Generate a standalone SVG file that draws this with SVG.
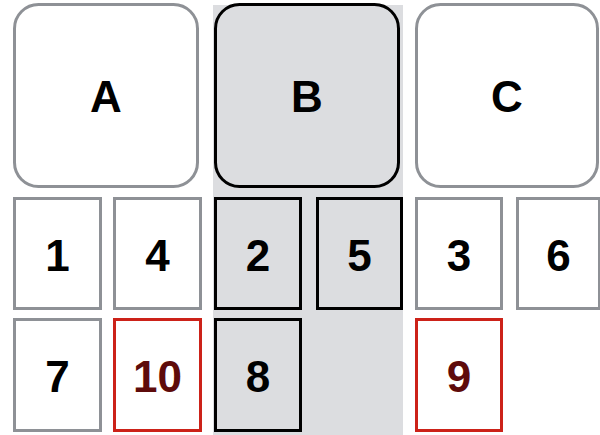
<svg xmlns="http://www.w3.org/2000/svg" width="600" height="435" viewBox="0 0 600 435">
<style>
  .bg{fill:#dcdde0;}
  .n rect{stroke-width:3;}
  .g rect{fill:#ffffff;stroke:#8e9196;}
  .k rect{fill:#dcdde0;stroke:#000000;}
  .r rect{fill:#ffffff;stroke:#cc2219;}
  text{font-family:"Liberation Sans",Arial,sans-serif;font-weight:bold;font-size:44px;text-anchor:middle;fill:#000000;}
  .r text{fill:#5e0b0b;}
</style>
<rect class="bg" x="213" y="5" width="190" height="430"/>
<g id="connectors"></g>
<g id="A" class="n g"><rect x="14.5" y="4.5" width="183" height="182" rx="24"/><text x="106" y="112">A</text></g>
<g id="B" class="n k"><rect x="215.5" y="4.5" width="183" height="182" rx="24"/><text x="307" y="112">B</text></g>
<g id="C" class="n g"><rect x="416.5" y="4.5" width="181" height="182" rx="24"/><text x="507" y="112">C</text></g>
<g id="n1" class="n g"><rect x="14.5" y="198.5" width="86" height="110"/><text x="57.5" y="271">1</text></g>
<g id="n4" class="n g"><rect x="114.5" y="198.5" width="86" height="110"/><text x="157.5" y="271">4</text></g>
<g id="n2" class="n k"><rect x="215.5" y="198.5" width="85" height="110"/><text x="258" y="271">2</text></g>
<g id="n5" class="n k"><rect x="317.5" y="198.5" width="84" height="110"/><text x="359.5" y="271">5</text></g>
<g id="n3" class="n g"><rect x="416.5" y="198.5" width="85" height="110"/><text x="459" y="271">3</text></g>
<g id="n6" class="n g"><rect x="517.5" y="198.5" width="82" height="110"/><text x="558.5" y="271">6</text></g>
<g id="n7" class="n g"><rect x="14.5" y="319.5" width="86" height="111"/><text x="57.5" y="392">7</text></g>
<g id="n10" class="n r"><rect x="114.5" y="319.5" width="86" height="111"/><text x="157.5" y="392">10</text></g>
<g id="n8" class="n k"><rect x="215.5" y="319.5" width="85" height="111"/><text x="258" y="392">8</text></g>
<g id="n9" class="n r"><rect x="416.5" y="319.5" width="85" height="111"/><text x="459" y="392">9</text></g>
</svg>
